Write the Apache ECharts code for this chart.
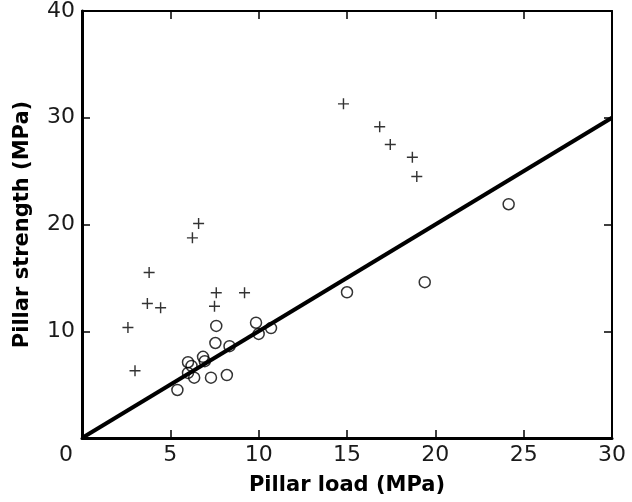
<!DOCTYPE html>
<html>
<head>
<meta charset="utf-8">
<script src="https://cdn.jsdelivr.net/npm/echarts@6/dist/echarts.min.js"></script>
<style>
    html, body { margin: 0; padding: 0; background: #fff; }
    #main { width: 632px; height: 502px; }
</style>
</head>
<body>
<div id="main"></div>
<script>
// + 点
var crossLoad     = [2.6, 3.0, 3.7, 3.8, 4.45, 6.25, 6.6, 7.5, 7.6, 9.2, 14.8, 16.85, 17.45, 18.7, 18.95];
var crossStrength = [10.35, 6.3, 12.6, 15.5, 12.2, 18.75, 20.1, 12.35, 13.6, 13.6, 31.3, 29.15, 27.5, 26.3, 24.5];
// o 点
var circleLoad     = [5.4, 6.0, 6.2, 6.85, 6.95, 6.0, 6.35, 7.3, 8.2, 7.55, 7.6, 8.35, 9.85, 10.0, 10.7, 15.0, 19.4, 24.15];
var circleStrength = [4.5, 7.1, 6.75, 7.6, 7.2, 6.1, 5.65, 5.65, 5.9, 8.9, 10.5, 8.6, 10.8, 9.75, 10.3, 13.65, 14.6, 21.9];
// 直线 y = x
var fitLine = [[0, 0], [30, 30]];

var xTicks = [0, 5, 10, 15, 20, 25, 30];
var yTicks = [0, 10, 20, 30, 40];

var labelFont = {fontFamily: 'DejaVu Sans', fontSize: 22, color: '#1a1a1a'};
var titleFont = {fontFamily: 'DejaVu Sans', fontSize: 21, fontWeight: 'bold', color: '#000'};

function pairs(xs, ys) {
    var out = [];
    for (var i = 0; i < xs.length; i++) {
        out.push([xs[i], ys[i]]);
    }
    return out;
}

var myChart = echarts.init(document.getElementById('main'));
var option = {
    animation: false,
    grid: {left: 82, right: 20, top: 10, bottom: 64},
    xAxis: [
        {
            type: 'value', position: 'bottom',
            min: xTicks[0], max: xTicks[xTicks.length - 1], interval: 5,
            name: 'Pillar load (MPa)', nameLocation: 'middle', nameGap: 37,
            nameTextStyle: titleFont,
            axisLine: {show: true, onZero: false, lineStyle: {color: '#000', width: 3}},
            axisTick: {show: true, inside: true, length: 8, lineStyle: {color: '#000', width: 1.5}},
            axisLabel: {
                margin: 6, fontFamily: labelFont.fontFamily, fontSize: labelFont.fontSize, color: labelFont.color,
                formatter: function (v) { return v === 0 ? '{z|0}' : String(v); },
                rich: {z: {fontFamily: labelFont.fontFamily, fontSize: labelFont.fontSize, color: labelFont.color, padding: [0, 32, 0, 0]}}
            },
            splitLine: {show: false}
        },
        {
            type: 'value', position: 'top',
            min: xTicks[0], max: xTicks[xTicks.length - 1], interval: 5,
            axisLine: {show: true, onZero: false, lineStyle: {color: '#000', width: 2}},
            axisTick: {show: true, inside: true, length: 8, lineStyle: {color: '#000', width: 1.5}},
            axisLabel: {show: false},
            splitLine: {show: false}
        }
    ],
    yAxis: [
        {
            type: 'value', position: 'left',
            min: yTicks[0], max: yTicks[yTicks.length - 1], interval: 10,
            name: 'Pillar strength (MPa)', nameLocation: 'middle', nameGap: 49, nameRotate: 90,
            nameTextStyle: titleFont,
            axisLine: {show: true, onZero: false, lineStyle: {color: '#000', width: 3}},
            axisTick: {show: true, inside: true, length: 8, lineStyle: {color: '#000', width: 1.5}},
            axisLabel: {
                margin: 7, showMinLabel: false,
                fontFamily: labelFont.fontFamily, fontSize: labelFont.fontSize, color: labelFont.color
            },
            splitLine: {show: false}
        },
        {
            type: 'value', position: 'right',
            min: yTicks[0], max: yTicks[yTicks.length - 1], interval: 10,
            axisLine: {show: true, onZero: false, lineStyle: {color: '#000', width: 2}},
            axisTick: {show: true, inside: true, length: 8, lineStyle: {color: '#000', width: 1.5}},
            axisLabel: {show: false},
            splitLine: {show: false}
        }
    ],
    series: [
        {
            type: 'scatter', name: 'cross',
            data: pairs(crossLoad, crossStrength),
            symbol: 'path://M4.35 0h1.3v10h-1.3z M0 4.35h10v1.3h-10z',
            symbolSize: 11,
            itemStyle: {color: '#000'}
        },
        {
            type: 'scatter', name: 'circle',
            data: pairs(circleLoad, circleStrength),
            symbol: 'circle',
            symbolSize: 11,
            itemStyle: {color: 'rgba(255,255,255,0)', borderColor: '#000', borderWidth: 1.5}
        },
        {
            type: 'line', name: 'fit',
            data: fitLine,
            symbol: 'none',
            lineStyle: {color: '#000', width: 4},
            z: 3
        }
    ]
};

myChart.setOption(option);
</script>
</body>
</html>
